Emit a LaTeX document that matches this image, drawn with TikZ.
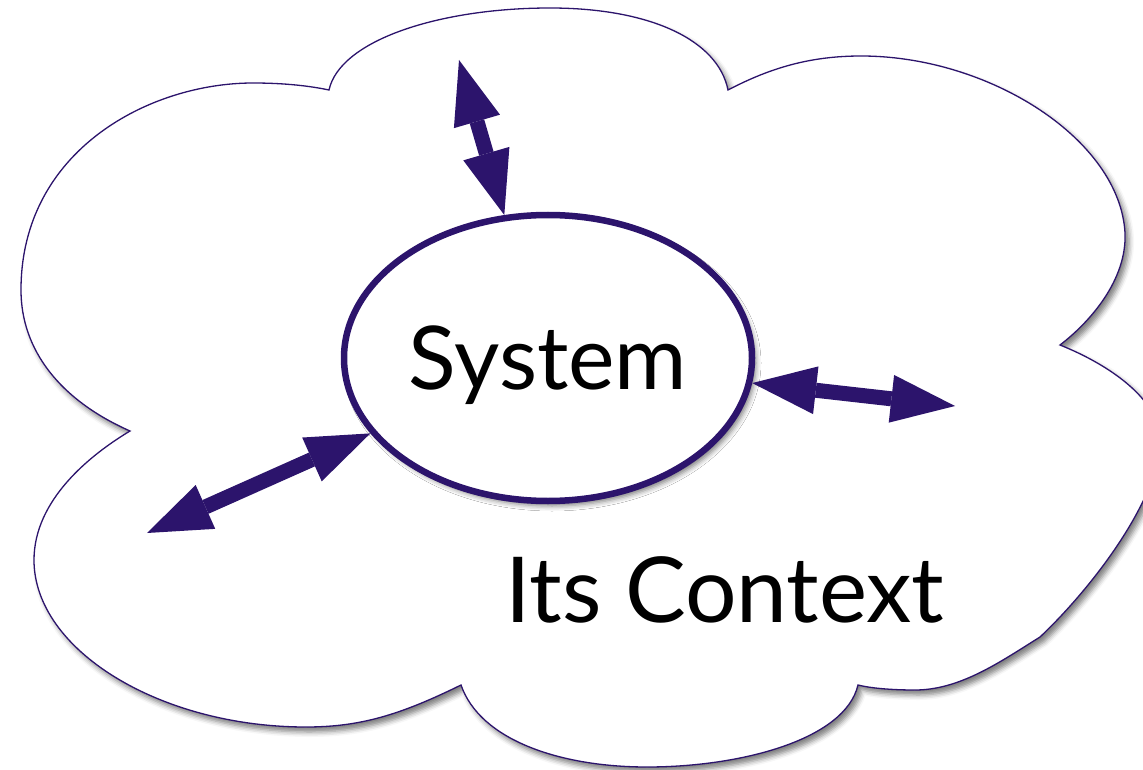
\documentclass[tikz,border=0pt]{standalone}
\usepackage{fontspec}
\setmainfont{Lato}
\usetikzlibrary{arrows.meta,shapes.geometric,shadows.blur}
\definecolor{ctxpurple}{RGB}{44,20,108}

\begin{document}
\begin{tikzpicture}[x=1pt,y=-1pt,
    cloudline/.style={draw=ctxpurple,line width=1.3pt,fill=white,
        blur shadow={shadow xshift=4pt,shadow yshift=-5pt,shadow blur radius=5pt,shadow opacity=50}},
    sysnode/.style={ellipse,draw=ctxpurple,line width=6.5pt,fill=white,minimum width=408pt,minimum height=286pt,
        inner sep=0pt,text depth=0pt,font=\fontsize{88}{100}\selectfont,
        blur shadow={shadow xshift=4pt,shadow yshift=-5pt,shadow blur radius=5pt,shadow opacity=50}},
    linkarrow/.style={draw=ctxpurple,line width=15pt,
        {Triangle[length=64pt,width=48pt,line width=0pt]}-{Triangle[length=64pt,width=48pt,line width=0pt]}},
    bigtext/.style={font=\fontsize{91}{100}\selectfont}]
            \useasboundingbox (0,0) rectangle (1143,770);
            \draw[cloudline] (329,90) .. controls (340,40) and (440,8) .. (550,8) .. controls (650,8) and (718,40) .. (728,90)
            .. controls (770,68) and (810,56) .. (861,56) .. controls (990,56) and (1120,140) .. (1125,233)
            .. controls (1127,280) and (1090,322) .. (1060,345)
            .. controls (1110,365) and (1160,400) .. (1160,440) .. controls (1160,500) and (1090,590) .. (1040,637)
            .. controls (1000,662) and (960,690) .. (915,690) .. controls (890,690) and (870,688) .. (858,685)
            .. controls (845,740) and (740,767) .. (647,767) .. controls (560,767) and (480,740) .. (461,685)
            .. controls (400,715) and (360,727) .. (306,727) .. controls (160,727) and (34,650) .. (34,560)
            .. controls (34,500) and (90,455) .. (130,431)
            .. controls (60,400) and (21,350) .. (21,290) .. controls (21,150) and (150,83) .. (253,83)
            .. controls (285,83) and (310,86) .. cycle;
            \node[sysnode] (sys) at (548,358) {System};
            \node[bigtext,anchor=base] (ctx) at (725,622) {Its Context};
            \coordinate (topend) at (459,60);
            \coordinate (rightend) at (955,406);
            \coordinate (leftend) at (147,533);
            \draw[linkarrow] (sys.107) -- (topend);
            \draw[linkarrow] (sys.-7) -- (rightend);
            \draw[linkarrow] (sys.203) -- (leftend);
        \end{tikzpicture}
\end{document}
